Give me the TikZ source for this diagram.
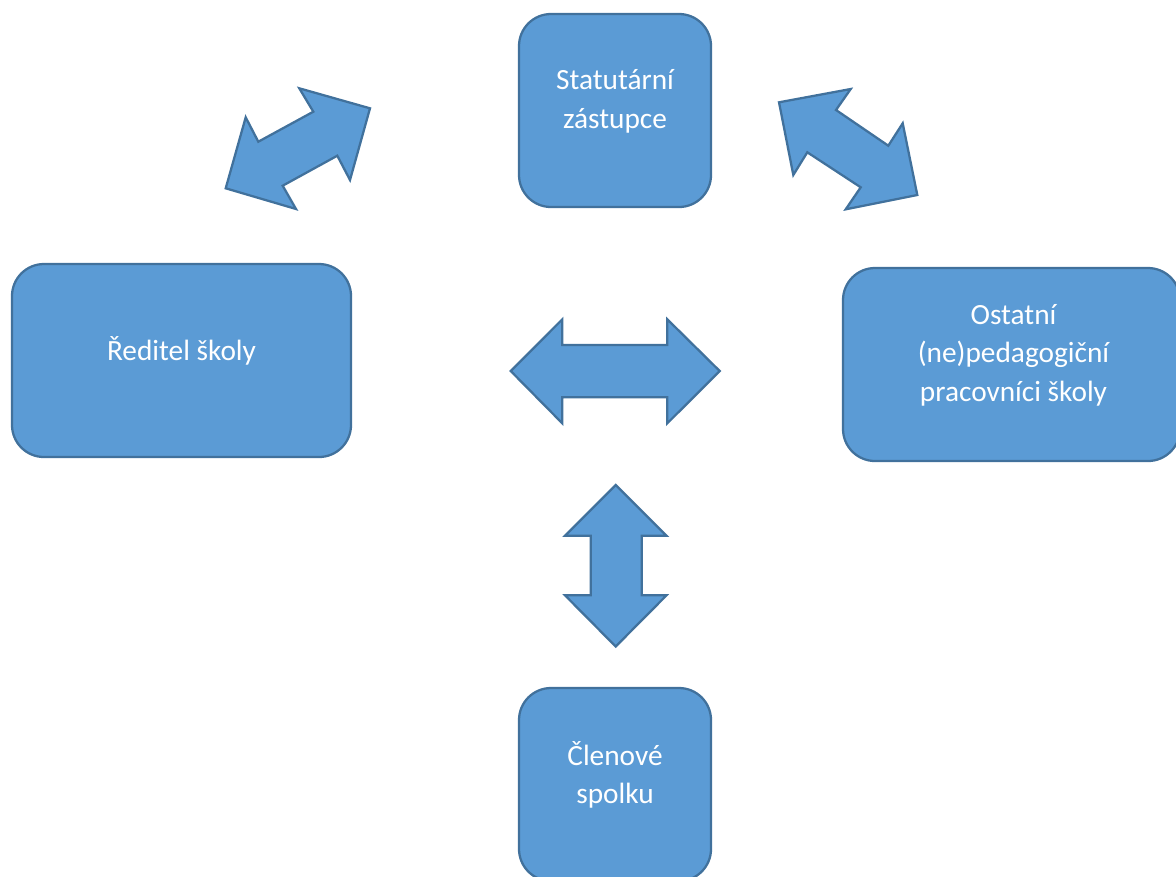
\documentclass[tikz,border=0pt]{standalone}
\usepackage{fontspec}
\setmainfont{Carlito}
\definecolor{fillblue}{HTML}{5B9BD5}
\definecolor{edgeblue}{HTML}{41719C}
\tikzset{
  x=0.75pt,y=-0.75pt,
  boxshape/.style={draw=edgeblue,fill=fillblue,line width=1.7pt,rounded corners=24pt,inner sep=0pt},
  blockarrow/.style={draw=edgeblue,fill=fillblue,line width=1.7pt,line join=miter,miter limit=10},
  boxtext/.style={text=white,align=center,font=\fontsize{22}{28.9}\selectfont,inner sep=0pt}
}
\begin{document}
\begin{tikzpicture}
\useasboundingbox (0,0) rectangle (1176,876);
\clip (0,0) rectangle (1176,876);
% boxes
\node[boxshape,minimum width=144pt,minimum height=144.75pt] (statutar) at (615,110.5) {};
\node[boxshape,minimum width=254.25pt,minimum height=144.75pt] (reditel) at (181.5,360.5) {};
\node[boxshape,minimum width=252.75pt,minimum height=144.75pt] (ostatni) at (1011.5,364.5) {};
\node[boxshape,minimum width=144pt,minimum height=144.75pt] (clenove) at (615,784.5) {};
% texts
\node[boxtext] (tstatutar) at ([yshift=6.8pt]statutar.center) {Statutární\\zástupce};
\node[boxtext] (treditel) at ([yshift=7.4pt]reditel.center) {Ředitel školy};
\node[boxtext] (tostatni) at ([xshift=1.5pt,yshift=7pt]ostatni.center) {Ostatní\\(ne)pedagogiční\\pracovníci školy};
\node[boxtext] (tclenove) at ([yshift=7.4pt]clenove.center) {Členové\\spolku};
% block arrows
\draw[blockarrow] (370,108.3) -- (299.3,88.3) -- (313.3,111.7) -- (258.3,141.7) -- (245.7,117.3) -- (225.7,188.3) -- (296,209) -- (282.7,185.7) -- (337.3,155.7) -- (350,180) -- cycle;
\draw[blockarrow] (779,102.3) -- (850.7,89) -- (836,110) -- (888.3,145.7) -- (902.7,123.3) -- (917.3,195) -- (845.7,209.3) -- (860.7,187.3) -- (807.3,152.3) -- (793.3,175) -- cycle;
\draw[blockarrow] (510.7,371) -- (562.3,319.3) -- (562.3,345) -- (667.3,345) -- (667.3,319.3) -- (719.7,371) -- (667.3,423.3) -- (667.3,397.3) -- (562.3,397.3) -- (562.3,423.3) -- cycle;
\draw[blockarrow] (615.7,485) -- (666.5,535.7) -- (641.7,535.7) -- (641.7,595.3) -- (666.5,595.3) -- (615.7,646.5) -- (565,595.3) -- (590.7,595.3) -- (590.7,535.7) -- (565,535.7) -- cycle;
\end{tikzpicture}
\end{document}
